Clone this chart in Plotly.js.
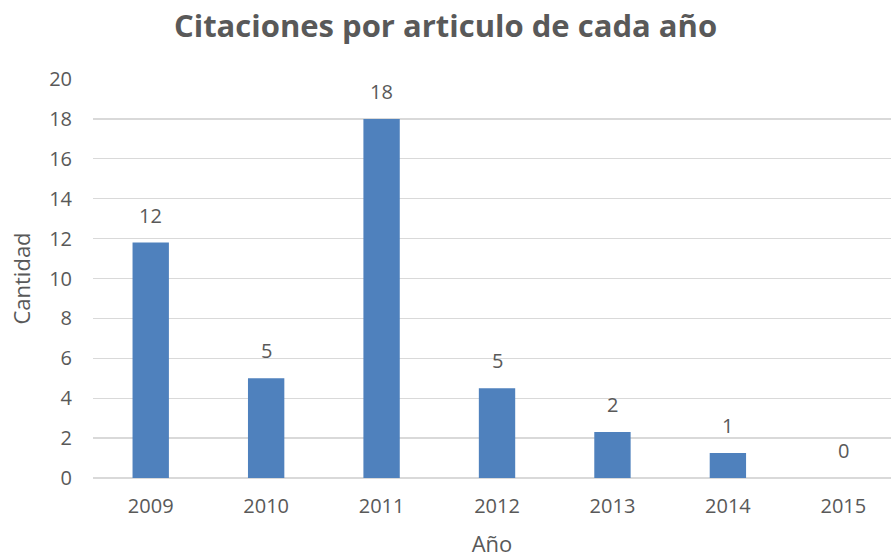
<!DOCTYPE html>
<html>
<head>
<meta charset="utf-8">
<script src="https://cdn.plot.ly/plotly-3.0.1.min.js"></script>
<style>html,body{margin:0;padding:0;background:#fff;}#chart{width:891px;height:558px;}</style>
</head>
<body>
<div id="chart"></div>
<script>
const years = ['2009', '2010', '2011', '2012', '2013', '2014', '2015'];
const values = [11.8, 5.0, 18.0, 4.5, 2.3, 1.25, 0];
const labels = ['12', '5', '18', '5', '2', '1', '0'];

const textColor = '#595959';
const font = 'Open Sans, sans-serif';

const trace = {
  type: 'bar',
  x: years,
  y: values,
  marker: {color: '#4f81bd'},
  width: 0.315,
  hoverinfo: 'skip'
};

const annotations = years.map((yr, i) => ({
  x: i, y: values[i], text: labels[i],
  xref: 'x', yref: 'y', showarrow: false,
  yanchor: 'bottom', yshift: 12,
  font: {family: font, size: 20, color: textColor}
}));

const layout = {
  width: 891, height: 558,
  margin: {l: 92.5, r: 0, t: 79, b: 80},
  paper_bgcolor: '#fff', plot_bgcolor: '#fff',
  title: {text: '<b>Citaciones por articulo de cada año</b>', x: 0.5, xanchor: 'center', y: 0.953, yanchor: 'middle',
          font: {family: font, size: 31, color: textColor}},
  xaxis: {
    type: 'category', range: [-0.5, 6.413],
    showgrid: false, zeroline: false, showline: false,
    ticks: '', tickfont: {family: font, size: 20, color: textColor},
    ticklabelstandoff: 14,
    title: {text: 'Año', font: {family: font, size: 22, color: textColor}, standoff: 20},
    fixedrange: true
  },
  yaxis: {
    range: [0, 20], dtick: 2, tick0: 0,
    showgrid: true, gridcolor: '#d9d9d9', gridwidth: 1.3,
    zeroline: true, zerolinecolor: '#d9d9d9', zerolinewidth: 1.3,
    showline: false, ticks: '',
    tickfont: {family: font, size: 20, color: textColor},
    ticklabelstandoff: 20,
    title: {text: 'Cantidad', font: {family: font, size: 22, color: textColor}, standoff: 12},
    fixedrange: true
  },
  annotations: annotations,
  showlegend: false,
  bargap: 0.685
};

Plotly.newPlot('chart', [trace], layout, {displayModeBar: false, staticPlot: true});
</script>
</body>
</html>
